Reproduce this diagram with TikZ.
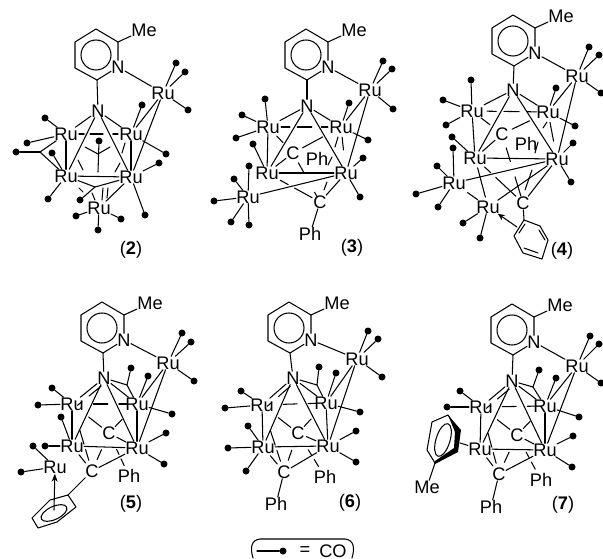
\documentclass[tikz,border=0pt]{standalone}
\usepackage{fontspec}
\setmainfont{Liberation Sans}
\usetikzlibrary{calc,arrows.meta}
\tikzset{
  bond/.style={line width=1.05pt,draw=black,line cap=round},
  atomlbl/.style={inner sep=0.2pt,font=\fontsize{18.2}{18}\selectfont,text=black},
  codot/.style={circle,fill=black,inner sep=0pt,minimum size=7pt},
}
\newcommand\Atm[4]{\node[atomlbl] (#1) at (#2,#3) {#4};}
\newcommand\Bd[2]{\draw[bond] (#1) -- (#2);}
\newcommand\PB[4]{\draw[bond] ($(#1)!#3!(#2)$) -- ($(#1)!#4!(#2)$);}
\newcommand\SG[4]{\draw[bond] (#1,#2) -- (#3,#4);}
\newcommand\CO[3]{\node[codot] (#1-#2-#3) at (#2,#3) {}; \draw[bond] (#1) -- (#1-#2-#3);}
% pyridine ring with methyl
\newcommand\Ring[3]{
  \begin{scope}[shift={(#2,#3)}]
    \coordinate (pa#1) at (0,0);
    \coordinate (pb#1) at (22,13);
    \coordinate (pd#1) at (1,51);
    \coordinate (pe#1) at (-21,39);
    \coordinate (pf#1) at (-21,13);
    \Atm{n#1}{22}{38}{N}
    \Atm{me#1}{48}{1}{Me}
    \draw[bond,line join=round] (n#1) -- (pb#1) -- (pa#1) -- (pf#1) -- (pe#1) -- (pd#1) -- (n#1);
    \Bd{pb#1}{me#1}
    \draw[bond] (0,26) circle (15);
  \end{scope}
}
% common framework: N, four Ru of the butterfly, Ru top
\newcommand\Frame[1]{
  \Bd{n#1}{T#1} \Bd{pd#1}{N#1}
  \Bd{N#1}{UL#1} \Bd{N#1}{UR#1} \Bd{N#1}{LL#1} \Bd{N#1}{LR#1}
  \Bd{UL#1}{LL#1} \Bd{T#1}{UR#1} \Bd{T#1}{LR#1} \Bd{LL#1}{LR#1}
}
% framework of 5, 6, 7
\newcommand\CoreB[1]{
  \Frame{#1}
  \Bd{UR#1}{LR#1}
  \PB{UL#1}{UR#1}{.33}{.55} \PB{UL#1}{UR#1}{.72}{.84}
  \PB{C#1}{UL#1}{.2}{.55} \PB{C#1}{UR#1}{.22}{.47} \PB{C#1}{LR#1}{.28}{.6}
  \PB{D#1}{C#1}{.3}{.56}
  \PB{LL#1}{D#1}{.35}{.68}
  \PB{UL#1}{D#1}{.39}{.6} \PB{UL#1}{D#1}{.68}{.84}
  \Bd{D#1}{LR#1}
  \PB{C#1}{Q#1}{.38}{.5} \PB{C#1}{Q#1}{.6}{.76}
  \draw[bond] ($(N#1)!.12!(UL#1)+(1,5)$) -- ($(N#1)!.5!(UL#1)+(1,5)$);
  \draw[bond] ($(N#1)!.72!(UL#1)+(1,5)$) -- ($(N#1)!.86!(UL#1)+(1,5)$);
  \Bd{brg#1}{N#1} \Bd{brg#1}{UR#1} \Bd{brg#1}{brd#1}
}
\begin{document}
\begin{tikzpicture}[x=1pt,y=-1pt]
\useasboundingbox (0,0) rectangle (603,559);
\fill[white] (0,0) rectangle (603,559);

%%% 2
\Ring{2}{96}{29}
\Atm{N2}{98}{111}{N}
\Atm{T2}{163}{93}{Ru}
\Atm{UL2}{66}{134}{Ru}
\Atm{UR2}{131}{134}{Ru}
\Atm{LL2}{66}{176}{Ru}
\Atm{LR2}{131}{177}{Ru}
\Atm{B2}{99}{208}{Ru}
\Frame{2}
\Bd{UR2}{LR2}
\PB{UL2}{UR2}{.37}{.57} \PB{UL2}{UR2}{.2}{.28} \PB{UL2}{UR2}{.72}{.8}
\CO{T2}{176}{63} \CO{T2}{185}{72} \CO{T2}{188}{110}
\CO{UL2}{45}{118} \CO{UL2}{27}{143}
\coordinate (brl2) at (40,152);
\node[codot] (dl2) at (16,152) {};
\Bd{brl2}{dl2} \Bd{brl2}{UL2} \Bd{brl2}{LL2}
\CO{LL2}{52}{153} \CO{LL2}{48}{199}
\coordinate (brb2) at (95,187);
\node[codot] (db2) at (80,200) {};
\Bd{brb2}{db2} \Bd{brb2}{LR2} \Bd{brb2}{LL2}
\CO{UR2}{142}{105} \CO{UR2}{166}{154}
\CO{LR2}{159}{163} \CO{LR2}{145}{215}
\CO{B2}{76}{216} \CO{B2}{98}{230} \CO{B2}{121}{219}
\coordinate (y2) at (98,154);
\node[codot] (dc2) at (99,141) {};
\coordinate (yb2) at (98,172);
\coordinate (yl2) at (85,147);
\coordinate (yr2) at (110,147);
\Bd{dc2}{yb2} \Bd{y2}{yl2} \Bd{y2}{yr2}
\SG{78}{160}{83}{170} \SG{120}{163}{115}{172} \SG{125}{143}{122}{153}
\SG{79}{188}{83}{192} \SG{92}{193}{95}{200} \SG{103}{188}{102}{200} \SG{108}{188}{107}{198}
\Bd{B2}{LR2}

%%% 3
\Ring{3}{306}{29}
\Atm{N3}{307}{106}{N}
\Atm{T3}{370}{90}{Ru}
\Atm{UL3}{268}{127}{Ru}
\Atm{UR3}{341}{127}{Ru}
\Atm{LL3}{267}{173}{Ru}
\Atm{LR3}{346}{173}{Ru}
\Atm{C3}{293}{153}{C}
\Atm{D3}{320}{202}{C}
\Atm{Ph3a}{317}{159}{Ph}
\Atm{Ph3b}{310}{234}{Ph}
\Atm{F3}{248}{197}{Ru}
\Frame{3}
\PB{UR3}{LR3}{.22}{.5}
\PB{UL3}{UR3}{.18}{.3} \PB{UL3}{UR3}{.4}{.6} \PB{UL3}{UR3}{.73}{.82}
\CO{T3}{383}{61} \CO{T3}{392}{69} \CO{T3}{393}{109}
\CO{UL3}{265}{99} \CO{UL3}{242}{115} \CO{UL3}{236}{138}
\CO{UR3}{349}{103} \CO{UR3}{368}{140}
\CO{LR3}{363}{158} \CO{LR3}{360}{197}
\CO{LL3}{253}{144}
\CO{F3}{249}{166} \CO{F3}{234}{179} \CO{F3}{214}{201} \CO{F3}{231}{222} \CO{F3}{249}{225}
\Bd{F3}{LR3}
\Bd{C3}{LL3}
\PB{C3}{UL3}{.4}{.65}
\PB{C3}{UR3}{.2}{.62}
\SG{338}{137}{335}{147} \SG{328}{165}{332}{157}
\PB{C3}{D3}{.2}{.4} \PB{C3}{D3}{.8}{.9}
\PB{LL3}{D3}{.25}{.4} \PB{LL3}{D3}{.52}{.85}
\Bd{D3}{LR3}
\SG{324}{190}{327}{182}
\Bd{D3}{Ph3b}
\node[atomlbl] (cap3) at (352,248) {(\textbf{3})};

%%% 4
\Ring{4}{513}{15}
\Atm{N4}{513}{90}{N}
\Atm{T4}{577}{76}{Ru}
\Atm{UL4}{472}{111}{Ru}
\Atm{UR4}{548}{112}{Ru}
\Atm{LL4}{475}{158}{Ru}
\Atm{LR4}{557}{159}{Ru}
\Atm{F4}{454}{183}{Ru}
\Atm{B4}{488}{207}{Ru}
\Atm{C4}{502}{134}{C}
\Atm{D4}{523}{203}{C}
\Atm{Ph4}{526}{144}{Ph}
\Frame{4}
\PB{UR4}{LR4}{.22}{.62}
\PB{UL4}{UR4}{.2}{.32} \PB{UL4}{UR4}{.42}{.62} \PB{UL4}{UR4}{.72}{.85}
\SG{543}{128}{547}{122} \SG{538}{142}{535}{153}
\CO{T4}{589}{47} \CO{T4}{599}{55} \CO{T4}{601}{93}
\CO{UL4}{471}{80} \CO{UL4}{443}{100} \CO{UL4}{446}{125}
\CO{UR4}{556}{88} \CO{UR4}{575}{126}
\CO{LR4}{573}{143} \CO{LR4}{571}{182}
\CO{LL4}{452}{137}
\CO{F4}{453}{148} \CO{F4}{437}{166} \CO{F4}{416}{194} \CO{F4}{438}{207}
\CO{B4}{463}{223} \CO{B4}{480}{238}
\Bd{F4}{LR4} \Bd{B4}{LR4} \Bd{D4}{LR4}
\PB{F4}{B4}{.4}{.7}
\PB{LL4}{B4}{.2}{.8}
\Bd{C4}{LL4}
\PB{C4}{UL4}{.4}{.7}
\PB{C4}{UR4}{.22}{.6}
\PB{C4}{D4}{.2}{.4} \PB{C4}{D4}{.62}{.9}
\PB{LL4}{D4}{.2}{.33} \PB{LL4}{D4}{.43}{.85}
\SG{525}{190}{532}{170}
\coordinate (h4a) at (524,220);
\coordinate (h4b) at (540,226);
\coordinate (h4c) at (548,240);
\coordinate (h4d) at (542,259);
\coordinate (h4e) at (523,253);
\coordinate (h4f) at (514,236);
\Bd{D4}{h4a}
\draw[bond,line join=round] (h4a) -- (h4b) -- (h4c) -- (h4d) -- (h4e) -- (h4f) -- cycle;
\SG{539}{230}{545}{240} \SG{524}{248}{538}{253} \SG{519}{233}{525}{224}
\draw[bond,-{Stealth[length=7pt,width=6pt]}] (517,227) -- (B4);
\node[atomlbl] (cap4) at (562,251) {(\textbf{4})};

%%% 5
\Ring{5}{102}{302}
\Atm{N5}{104}{378}{N}
\Atm{T5}{168}{363}{Ru}
\Atm{UL5}{72}{404}{Ru}
\Atm{UR5}{137}{404}{Ru}
\Atm{LL5}{72}{446}{Ru}
\Atm{LR5}{137}{448}{Ru}
\Atm{C5}{109}{433}{C}
\Atm{D5}{92}{471}{C}
\Atm{Q5}{129}{476}{Ph}
\Atm{F5}{55}{467}{Ru}
\coordinate (brg5) at (127,385);
\node[codot] (brd5) at (131,368) {};
\CoreB{5}
\CO{T5}{182}{333} \CO{T5}{191}{342} \CO{T5}{194}{381}
\CO{UL5}{52}{388} \CO{UL5}{38}{405}
\CO{UR5}{148}{376} \CO{UR5}{172}{414}
\CO{LR5}{166}{433} \CO{LR5}{164}{464}
\CO{LL5}{61}{417} \CO{LL5}{45}{446}
\CO{F5}{33}{446} \CO{F5}{21}{472}
\coordinate (h5a) at (32,518);
\coordinate (h5b) at (50,500);
\coordinate (h5c) at (68,495);
\coordinate (h5d) at (76,507);
\coordinate (h5e) at (57,522);
\coordinate (h5f) at (38,528);
\draw[bond,line join=round] (h5a) -- (h5b) -- (h5c) -- (h5d) -- (h5e) -- (h5f) -- cycle;
\Bd{h5c}{D5}
\draw[bond] (54,513) ellipse[x radius=14,y radius=6.5,rotate=25];
\coordinate (ar5) at (54,510);
\draw[bond,-{Stealth[length=8pt,width=6pt]}] (ar5) -- (F5);
\node[atomlbl] (cap5) at (131,504) {(\textbf{5})};

%%% 6
\Ring{6}{289}{302}
\Atm{N6}{293}{378}{N}
\Atm{T6}{357}{359}{Ru}
\Atm{UL6}{262}{405}{Ru}
\Atm{UR6}{326}{403}{Ru}
\Atm{LL6}{263}{447}{Ru}
\Atm{LR6}{328}{446}{Ru}
\Atm{C6}{298}{433}{C}
\Atm{D6}{284}{472}{C}
\Atm{Q6}{325}{477}{Ph}
\Atm{P6}{276}{504}{Ph}
\coordinate (brg6) at (317,385);
\node[codot] (brd6) at (319,367) {};
\CoreB{6}
\CO{T6}{368}{331} \CO{T6}{378}{339} \CO{T6}{382}{377}
\CO{UL6}{241}{391} \CO{UL6}{225}{408}
\CO{UR6}{336}{373} \CO{UR6}{360}{412}
\CO{LR6}{356}{431} \CO{LR6}{356}{462}
\CO{LL6}{248}{426} \CO{LL6}{228}{448} \CO{LL6}{246}{471}
\Bd{D6}{P6}
\node[atomlbl] (cap6) at (350,503) {(\textbf{6})};

%%% 7
\Ring{7}{512}{304}
\Atm{N7}{512}{381}{N}
\Atm{T7}{577}{366}{Ru}
\Atm{UL7}{481}{407}{Ru}
\Atm{UR7}{545}{406}{Ru}
\Atm{LL7}{480}{449}{Ru}
\Atm{LR7}{545}{450}{Ru}
\Atm{C7}{517}{435}{C}
\Atm{D7}{499}{474}{C}
\Atm{Q7}{541}{480}{Ph}
\Atm{P7}{491}{507}{Ph}
\coordinate (brg7) at (533,387);
\node[codot] (brd7) at (539,370) {};
\CoreB{7}
\CO{T7}{590}{336} \CO{T7}{599}{344} \CO{T7}{601}{383}
\CO{UL7}{460}{391} \CO{UL7}{447}{407}
\CO{UR7}{556}{378} \CO{UR7}{579}{417}
\CO{LR7}{573}{436} \CO{LR7}{572}{467}
\Bd{D7}{P7}
\Atm{Me7}{427}{487}{Me}
\coordinate (h7a) at (448,415);
\coordinate (h7b) at (459,432);
\coordinate (h7c) at (457,450);
\coordinate (h7d) at (435,463);
\coordinate (h7e) at (427,450);
\coordinate (h7f) at (432,422);
\draw[bond,line join=round] (h7c) -- (h7d) -- (h7e) -- (h7f) -- (h7a) -- (h7b) -- cycle;
\fill[black] (448,415) -- (461,430) -- (458,452) -- (435,464) -- (435,461) -- (454,448) -- (455,432) -- cycle;
\Bd{h7d}{Me7}
\coordinate (h7g) at (460,443);
\Bd{h7g}{LL7}
\draw[bond] (443,440) ellipse[x radius=7,y radius=17,rotate=-17];
\node[atomlbl] (cap7) at (563,505) {(\textbf{7})};

%%% caption of 2
\node[atomlbl] (cap2) at (131,250) {(\textbf{2})};

%%% legend
\draw[bond] (253,558) .. controls (250,548) and (251,540) .. (260,539) -- (345,539) .. controls (354,540) and (355,548) .. (352,558);
\coordinate (lg) at (257,551);
\node[codot] (ld) at (283,551) {};
\Bd{lg}{ld}
\node[atomlbl] (eq) at (305,551) {=};
\node[atomlbl] (coleg) at (333,551) {CO};
\end{tikzpicture}
\end{document}
